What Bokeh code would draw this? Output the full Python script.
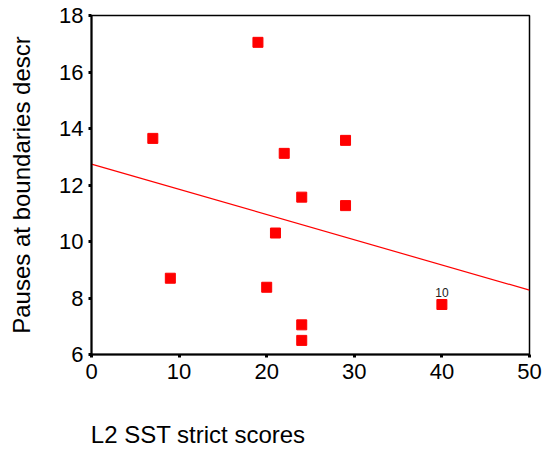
import numpy as np
from bokeh.plotting import figure
from bokeh.models import FixedTicker, Range1d, ColumnDataSource
from bokeh.embed import file_html
from bokeh.resources import INLINE
from bokeh.core.properties import value

# data
sst_scores = [7, 9, 19, 20, 21, 22, 24, 24, 24, 29, 29, 40]
pauses = [13.65, 8.7, 17.05, 8.38, 10.3, 13.12, 11.57, 7.05, 6.5, 13.58, 11.27, 7.77]
case_labels = ["", "", "", "", "", "", "", "", "", "", "", "10"]
x_ticks = [0, 10, 20, 30, 40, 50]
y_ticks = [6, 8, 10, 12, 14, 16, 18]
x_label = "L2 SST strict scores"
y_label = "Pauses at boundaries descr"

FONT = "Liberation Sans"

p = figure(width=542, height=450, output_backend="svg", toolbar_location=None,
           x_range=Range1d(0, 50), y_range=Range1d(6, 18),
           min_border_left=91, min_border_right=13, min_border_top=15, min_border_bottom=95)
p.xgrid.visible = False
p.ygrid.visible = False
p.outline_line_color = "black"
p.outline_line_width = 1.5
p.background_fill_color = "white"

for ax in (p.xaxis[0], p.yaxis[0]):
    ax.axis_line_width = 2
    ax.axis_line_color = "black"
    ax.major_tick_in = 0
    ax.major_tick_out = 3
    ax.major_tick_line_width = 3
    ax.minor_tick_line_color = None
    ax.major_label_text_font = FONT
    ax.major_label_text_font_size = "22px"
    ax.major_label_text_color = "black"
    ax.axis_label_text_font = FONT
    ax.axis_label_text_font_size = "24px"
    ax.axis_label_text_font_style = "normal"
    ax.axis_label_text_color = "black"

p.xaxis[0].ticker = FixedTicker(ticks=x_ticks)
p.yaxis[0].ticker = FixedTicker(ticks=y_ticks)
p.xaxis[0].major_label_standoff = 6
p.yaxis[0].major_label_standoff = 5
p.yaxis[0].axis_label = y_label
p.yaxis[0].axis_label_standoff = 21

# x-axis label anchored at the axis start; leading no-break spaces shift the
# centred text so that it visibly begins at the frame's left edge
p.xaxis[0].axis_label = "\u00a0" * 32 + x_label
p.xaxis[0].axis_label_align = "start"
p.xaxis[0].axis_label_standoff = 39

# regression line computed from the data
slope, intercept = np.polyfit(sst_scores, pauses, 1)
x0, x1 = x_ticks[0], x_ticks[-1]
p.line([x0, x1], [intercept + slope * x0, intercept + slope * x1], line_color="#ff0000", line_width=1.2)

src = ColumnDataSource(dict(x=sst_scores, y=pauses, lab=case_labels))
p.scatter("x", "y", source=src, marker="square", size=10, fill_color="#ff0000", line_color="#ff0000")
p.text("x", "y", text="lab", source=src, text_font=value(FONT), text_font_size="12px",
       text_align="center", text_baseline="bottom", y_offset=-7, text_color="#222222")

open("out.html", "w").write(file_html(p, INLINE))
